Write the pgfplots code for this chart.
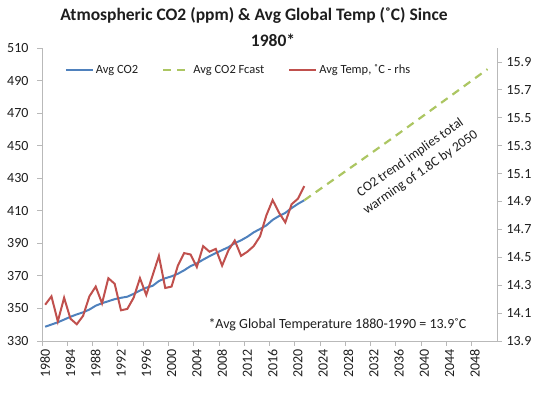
\documentclass[border=0pt]{standalone}
\usepackage{pgfplots}
\pgfplotsset{compat=1.18}
\usepackage{fontspec}
\setmainfont{Carlito}
\definecolor{co2blue}{RGB}{79,129,189}
\definecolor{tempred}{RGB}{192,80,77}
\definecolor{fcgreen}{RGB}{172,198,98}
\definecolor{axgray}{RGB}{185,185,185}
\definecolor{txt}{RGB}{30,30,30}
\pgfplotstableread{
year co2
1980 338.76
1981 340.12
1982 341.48
1983 343.15
1984 344.87
1985 346.35
1986 347.61
1987 349.31
1988 351.69
1989 353.20
1990 354.45
1991 355.70
1992 356.54
1993 357.21
1994 358.96
1995 360.97
1996 362.74
1997 363.88
1998 366.84
1999 368.54
2000 369.71
2001 371.32
2002 373.45
2003 375.98
2004 377.70
2005 379.98
2006 382.09
2007 384.02
2008 385.83
2009 387.64
2010 390.10
2011 391.85
2012 394.06
2013 396.74
2014 398.81
2015 401.01
2016 404.41
2017 406.76
2018 408.72
2019 411.66
2020 414.24
2021 416.45
}\co
\pgfplotstableread{
year fc
2021 416.45
2025 427.4
2030 441.0
2035 454.8
2040 468.8
2045 482.9
2050 497.0
}\fc
\pgfplotstableread{
year temp
1980 14.16
1981 14.22
1982 14.04
1983 14.21
1984 14.06
1985 14.02
1986 14.08
1987 14.22
1988 14.29
1989 14.17
1990 14.35
1991 14.31
1992 14.12
1993 14.13
1994 14.21
1995 14.35
1996 14.23
1997 14.37
1998 14.51
1999 14.28
2000 14.29
2001 14.44
2002 14.53
2003 14.52
2004 14.43
2005 14.58
2006 14.54
2007 14.56
2008 14.44
2009 14.55
2010 14.62
2011 14.51
2012 14.54
2013 14.58
2014 14.65
2015 14.80
2016 14.91
2017 14.82
2018 14.75
2019 14.88
2020 14.92
2021 15.01
}\tmp
\begin{document}
\begin{tikzpicture}[x=1pt,y=1pt]
\path[use as bounding box] (0,0) rectangle (540,393);
\node[font=\fontsize{17.5}{20}\selectfont\bfseries, text=txt] at (254,378) {Atmospheric CO2 (ppm) \& Avg Global Temp (˚C) Since};
\node[font=\fontsize{17.5}{20}\selectfont\bfseries, text=txt] at (273,353) {1980*};
% left axis: CO2
\begin{axis}[
  at={(42pt,52pt)}, anchor=south west, scale only axis,
  width=455pt, height=293pt,
  xmin=1979.5, xmax=2051.5, ymin=330, ymax=510,
  axis x line*=bottom, axis y line*=left,
  axis line style={draw=axgray, line width=0.8pt, -},
  tick style={draw=axgray, line width=0.8pt},
  tick align=outside, major tick length=5pt,
  xtick={1979.5,1983.5,1987.5,1991.5,1995.5,1999.5,2003.5,2007.5,2011.5,2015.5,2019.5,2023.5,2027.5,2031.5,2035.5,2039.5,2043.5,2047.5},
  xticklabels={},
  ytick={330,350,...,510},
  yticklabel style={font=\fontsize{14}{14}\selectfont, text=txt},
  yticklabel shift=5pt,
  /pgf/number format/assume math mode=true,
  clip=false,
]
\addplot[co2blue, line width=2pt] table[x=year,y=co2] {\co};
\addplot[fcgreen, line width=2.2pt, dash pattern=on 8pt off 6pt] table[x=year,y=fc] {\fc};
\node[rotate=35, align=center, font=\fontsize{13.5}{18}\selectfont, text=txt] at (axis cs:2038.6,438.0) {CO2 trend implies total\\warming of 1.8C by 2050};
\node[anchor=east, font=\fontsize{14}{14}\selectfont, text=txt] at (axis cs:2047.2,340) {*Avg Global Temperature 1880-1990 = 13.9˚C};
\end{axis}
% right axis: temperature
\begin{axis}[
  at={(42pt,52pt)}, anchor=south west, scale only axis,
  width=455pt, height=293pt,
  xmin=1979.5, xmax=2051.5, ymin=13.9, ymax=16.0,
  axis x line=none, axis y line*=right,
  axis line style={draw=axgray, line width=0.8pt, -},
  tick style={draw=axgray, line width=0.8pt},
  tick align=outside, major tick length=5pt,
  ytick={13.9,14.1,14.3,14.5,14.7,14.9,15.1,15.3,15.5,15.7,15.9},
  yticklabel style={font=\fontsize{14}{14}\selectfont, text=txt, /pgf/number format/.cd, fixed, fixed zerofill, precision=1},
  yticklabel shift=1pt,
  /pgf/number format/assume math mode=true,
  legend style={at={(0.432,0.925)}, anchor=center, draw=none, fill=none,
    font=\fontsize{12.5}{13}\selectfont, text=txt,
    /tikz/every even column/.append style={column sep=22pt}},
  legend columns=3,
  legend image code/.code={\draw[#1] (0pt,0pt) -- (27pt,0pt);},
]
\addlegendimage{co2blue, line width=2pt}
\addlegendentry{Avg CO2}
\addlegendimage{fcgreen, line width=2.2pt, dash pattern=on 8pt off 6pt}
\addlegendentry{Avg CO2 Fcast}
\addplot[tempred, line width=2pt] table[x=year,y=temp] {\tmp};
\addlegendentry{Avg Temp, ˚C - rhs}
\end{axis}
% x labels
\begin{axis}[
  at={(42pt,52pt)}, anchor=south west, scale only axis,
  width=455pt, height=293pt,
  xmin=1979.5, xmax=2051.5, ymin=0, ymax=1,
  hide y axis, axis x line*=bottom,
  x axis line style={draw=none},
  tick style={draw=none},
  xtick={1980,1984,...,2048},
  xticklabel style={rotate=90, anchor=east, font=\fontsize{14}{14}\selectfont, text=txt},
  xticklabel shift=5pt,
  /pgf/number format/assume math mode=true,
  /pgf/number format/1000 sep={},
]
\end{axis}
\end{tikzpicture}
\end{document}
